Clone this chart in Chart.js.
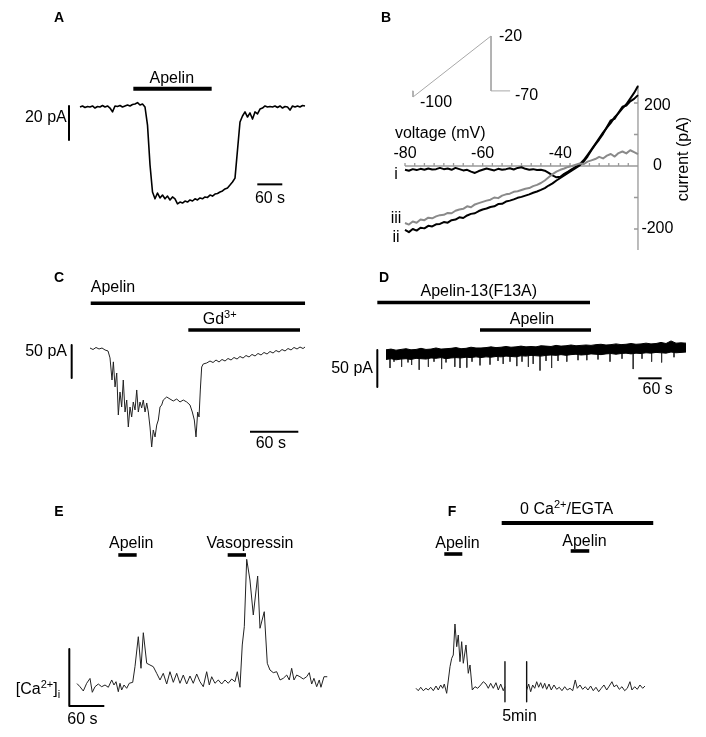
<!DOCTYPE html>
<html>
<head>
<meta charset="utf-8">
<script src="https://cdn.jsdelivr.net/npm/chart.js@4.4.0/dist/chart.umd.min.js"></script>
<style>
  body { margin: 0; background: #fff; }
  #fig { position: relative; width: 706px; height: 737px; background: #fff; }
  #fig canvas { position: absolute; }
</style>
</head>
<body>
<div id="fig">
  <canvas id="cA" width="353" height="260" style="left:0px;top:0px"></canvas>
  <canvas id="cB" width="353" height="260" style="left:353px;top:0px"></canvas>
  <canvas id="cC" width="353" height="220" style="left:0px;top:260px"></canvas>
  <canvas id="cD" width="386" height="220" style="left:320px;top:260px"></canvas>
  <canvas id="cE" width="353" height="257" style="left:0px;top:480px"></canvas>
  <canvas id="cF" width="353" height="257" style="left:353px;top:480px"></canvas>
</div>
<script>
// ---- A: whole-cell current during apelin (sampled every 6 s) ----
var aDt = 6; // s
var aCurrent = [0,0.6,-0.3,0.3,0,0.6,-0.6,0.3,0,0.9, 0,0.6,-0.6,-2.9,0.6,0.3,0.9,0,0.6,1.2,
  0.6,1.5,1.8,2.6,1.2,1.8,0,-10.6,-34,-50, -54,-50.6,-53.5,-51.8,-54,-52.4,-54.7,-52.9,-54,-57,
  -55.9,-56.5,-55.3,-55.9,-54.7,-55.3,-54,-54.7,-53.5,-54, -52.9,-53.2,-51.8,-52.4,-51.2,-50.9,-50,-49.4,-48.2,-47.6,
  -45.9,-44.1,-41.8,-25.3,-8.8,-5.3,-2.9,-5.9,-3.5,-7.1, -2.9,-4.1,-1.2,-0.6,0.6,0,0.3,0,0.6,-0.3,
  0.6,-0.6,0.3,0,-1.8,0.6,0,0.6,0,0.9,0.6];
var aApelin = [128, 316]; // s

// ---- B: I-V relations (ramp) ----
var bVolt = [-80,-79,-78,-77,-76,-75,-74,-73,-72,-71,-70,-69,-68,-67,-66,-65,-64,-63,-62,-61,
  -60,-59,-58,-57,-56,-55,-54,-53,-52,-51,-50,-49,-48,-47,-46,-45,-44,-43,-42,-41,
  -40,-39,-38,-37,-36,-35,-34,-33,-32,-31,-30,-29,-28,-27,-26,-25,-24,-23,-22,-21,-20];
var bCurI = [-12,-15,-10,-13,-9,-12,-8,-11,-10,-6, -10,-8,-12,-6,-10,-14,-12,-18,-22,-16,
  -12,-8,-11,-14,-9,-12,-10,-7,-11,-6, -4,-9,-12,-10,-13,-12,-15,-22,-30,-36,
  -34,-25,-18,-10,-3,6,18,35,52,70, 88,106,122,137,155,168,183,196,214,232, 254];
var bCurII = [-203,-210,-200,-205,-196,-198,-190,-192,-185,-184, -178,-180,-172,-170,-163,-165,-157,-152,-150,-143,
  -138,-135,-130,-128,-121,-120,-113,-110,-106,-101, -98,-94,-90,-85,-81,-76,-70,-62,-55,-46,
  -38,-30,-22,-14,-6,2,14,30,50,68, 84,102,124,145,150,170,188,192,205,213, 225];
var bCurIII = [-181,-186,-176,-180,-170,-172,-164,-166,-160,-156, -155,-149,-150,-142,-138,-136,-128,-131,-122,-118,
  -114,-110,-107,-100,-102,-94,-90,-88,-82,-80, -76,-72,-70,-64,-60,-54,-46,-36,-26,-18,
  -12,-8,-3,0,4,8,6,14,18,22, 29,24,33,38,30,41,46,40,50,44, 38];
var bVoltTicks = [-80,-77.5,-75,-72.5,-70,-67.5,-65,-62.5,-60,-57.5,-55,-52.5,-50,-47.5,-45,-42.5,-40,-37.5,-35,-32.5,-30,-27.5,-25,-22.5];
var bVoltLabels = [-80, -60, -40];
var bCurTicks = [200, 100, -100, -200];
var bCurLabels = [200, 0, -200];
var bProtoT = [-6, 0, 0, 1000, 1000, 1245];   // ms
var bProtoV = [-92, -92, -100, -20, -92, -92]; // as drawn

// ---- C: apelin then Gd3+ ----
var cTime = [0,3.8,7.5,11.3,15,18.8,22.5,25,27.5,29.2,31.3,33.4,35.4,37.5,39.6,41.6,43.8,45.9,47.9,50,
  52.1,54.1,56.3,58.4,60.4,62.5,64.6,66.6,68.8,70.9,72.9,75,77.1,79.1,81.3,83.4,85.4,87.5,89.6,91.6,
  95.9,100,104.1,108.4,112.5,116.6,120.9,125,127.9,130.4,132.5,134.6,136.3,137.9,139.6,141.6,145.9,150,153.8,157.5,
  161.3,165,168.8,172.5,176.3,180,183.8,187.5,191.3,195,198.8,202.5,206.3,210,213.8,217.5,221.3,225,228.8,232.5,
  236.3,240,243.8,247.5,251.3,255,258.8,262.5,266.3,268.8];
var cCurrent = [0,-2.3,0.8,-1.5,0,-3,-4.5,-15,-48.5,-21,-59,-37.9,-101.5,-66.7,-89.4,-48.5,-97,-78.8,-119.7,-89.4,
  -104.5,-81.8,-93.9,-63.6,-97,-81.8,-90.9,-78.8,-97,-83.3,-97,-119.7,-150,-124.2,-134.8,-116.7,-109.1,-89.4,-86.4,-78.8,
  -74.2,-77.3,-80.3,-77.3,-81.8,-78.8,-81.8,-86.4,-97,-109.1,-134.8,-97,-104.5,-63.6,-28.8,-24.2,-22.7,-19.7,-22,-18.2,
  -21.2,-17.4,-19.7,-15.9,-18.2,-14.4,-16.7,-12.9,-15.2,-11.4,-13.6,-9.8,-12.1,-8.3,-10.6,-6.8,-9.1,-5.3,-7.6,-3.8,
  -6.1,-2.3,-4.5,-0.8,-3,0.8,-1.5,1.5,-0.8,1.5];
var cApelin = [0.9, 268.8];
var cGd = [122.9, 262.5];

// ---- D: Apelin-13(F13A) then apelin ----
var dBandT = [0,12.5,25,37.5,50,62.5,75,87.5,100,112.5,125,137.5,150,162.5,175,187.5,200,212.5,225,237.5,
  250,262.5,275,287.5,300,312.5,325,337.5,350,362.5,375,387.5,400,412.5,425,437.5,450,462.5,475,487.5,
  500,512.5,525,537.5,550,562.5,575,587.5,600,612.5,625,637.5,650,662.5,675,687.5,700,712.5,725,737.5,750];
var dBandHi = [7,8,6.5,7.5,8.5,7,7.5,9,7.5,8, 9.5,8,8.5,9,10,8.5,9,10.5,9.5,9.5,
  10,11,10,10.5,11.5,10.5,11,12,11,11.5, 11,12.5,12,11.5,13,12,12.5,13.5,12.5,13,
  13.5,13,14,14.5,13.5,14,15,14,14.5,15.5, 14.5,15,16,15,15.5,17,15.5,19,16,16.5, 16];
var dBandLo = [-6,-5,-6.5,-5.5,-5,-6,-4.5,-5,-5.5,-4, -4.5,-3.5,-5,-4,-3.5,-4,-3,-3.5,-2.5,-3.5,
  -2.5,-3,-2,-2.5,-1.5,-2,-2.5,-1,-1.5,-0.5, -1,-1.5,-0.5,0,-0.5,0.5,-0.5,0.5,1,0,
  0.5,1.5,1,0.5,1.5,2,1,2,2.5,1.5, 2.5,2,3,2.5,3.5,3,2.5,4,3,3.5, 4];
var dSpikeT = [10,20,39,55,64,83,106,120,139,150,172,185,202,215,235,260,280,293,310,327,340,356,368,385,400,414,430,452,480,502,530,560,590,618,640,664,689,720];
var dSpikeTop = [-5,-5,-5,-4.5,-4,-4.5,-4,-3.5,-3.5,-3.5,-3,-3,-3,-2.5,-2.5,-2,-2,-1.5,-1.5,-1,-1,-0.5,0,0,0,0.5,0.5,0.5,0.5,1,1.5,1.5,2,2,2,2.5,3,3];
var dSpikeBot = [-17.6,-9,-16,-10,-13.5,-20,-16,-9,-19,-10,-16,-17.6,-17,-9,-14,-13,-8,-12,-9,-15,-9,-16,-12,-21,-8,-17.6,-8,-9,-7,-7,-6,-9,-5,-19,-5,-9,-10,-3];
var dF13A = [-21.7, 510];
var dApelin = [235, 512.5];

// ---- E: [Ca2+]i, apelin and vasopressin ----
var eTime = [0,5.1,10.8,16.6,22.3,26.2,30.9,36.5,42.3,48,53.7,59.5,63.4,66.9,70.8,73.7,76.6,80.6,85.2,89.6,
  95.5,99.4,105.1,109.7,113.7,119.5,125.1,130.8,136.6,142.3,147.9,153.8,159.4,165.1,170.9,176.5,182.2,188,193.7,199.3,
  205.2,210.8,216.5,222.3,226.8,230.9,236.5,242.2,248,253.7,259.3,265.2,270.8,274.8,279.4,283.3,286.8,290.9,296.5,302.2,
  309.7,313.7,321,326.2,330.8,336.5,342.3,348,353.6,359.5,363.9,368,372,376.6,382.2,387.9,393.7,398.2,402.3,406.2,
  410.9,415.3,418.2,423.4,429];
var eCa = [99,93.5,86,99.5,108,83.7,93.5,98.2,93.5,96.5,92.5,105.3,96.5,102.3,84.7,99.5,87.7,96.5,90.7,99.5,
  101.2,128.6,181.2,125.8,188.2,134.6,131.6,128.6,117,105.3,117,98.2,119.8,101.2,117,99.5,114,98.2,112.3,99.5,
  115.8,102.3,93.5,119.8,96.5,111,99.5,105.3,98.2,105.3,99.5,107,102.3,119.8,92.5,166.7,198.8,317,280.7,219.3,
  287.7,196,225.1,134.6,122.8,118.1,119.8,105.3,108.2,114,105.3,125.8,105.3,114,111,107,111,118.1,98.2,108.2,
  93.5,105.3,92.5,111,111];
var eApelin = [70.8, 102.3];
var eVaso = [258.3, 289.7];

// ---- F: [Ca2+]i, apelin in normal and 0 Ca2+/EGTA ----
var fTime1 = [0,3.9,8.1,12.5,17.1,21.1,25.2,29.7,34.3,38.2,42.3,45.8,48.5,52.6,58.3,61.2,63.9,66.8,69.8,72.5,
  75.4,78.3,81.1,85.7,89.6,92.6,96.5,101.1,105.8,110.9,115.4,120,123.9,128,132.5,137.1,141.1,145.2,149.6,152.5];
var fCa1 = [90.7,86.5,92.5,86.5,90.7,87.7,92.5,86.5,94.7,87.7,96.5,90.7,98.2,81.9,128.6,143.3,149.1,203.5,163.7,184.2,
  137.4,172.5,134.6,166.7,117,131.6,87.7,93.5,90.7,96.5,102.3,98.2,90.7,99.5,90.7,100.5,87.7,98.2,86.5,93.5];
var fTime2 = [189.7,193.2,196.6,200,203.5,206.9,210.3,213.7,217.2,220.6,224,228,231.9,236.5,241.2,245.6,250.2,254.9,259.3,264,
  268.6,273,276.5,281.1,285.7,290.2,294.8,299.4,303.9,308.5,313.2,317.6,322.2,326.9,331.3,335.9,339.4,344,348.5,353.1,
  357.7,362.2,366.8,370.2,374.9,379.3,383.9,388.6,392.5];
var fCa2 = [87.7,98.2,84.7,96.5,90.7,102.3,92.5,100.5,90.7,99.5,88.9,98.2,87.7,96.5,88.9,92.5,86.5,93.5,87.7,90.7,
  86.5,105.3,90.7,96.5,88.9,93.5,87.7,94.7,86.5,92.5,84.7,90.7,96.5,87.7,94.7,102.3,93.5,96.5,88.9,93.5,
  86.5,90.7,102.3,87.7,93.5,88.9,96.5,90.7,94.7];
var fBreak = [152.5, 189.7];
var fApelin1 = [48.5, 79.4];
var fApelin2 = [265.2, 297];
var fEgta = [146.9, 406.7];

// ---------------------------------------------------------------
var FONT = '"Liberation Sans", Arial, Helvetica, sans-serif';

function pts(xs, ys) {
  return xs.map(function (x, i) { return { x: x, y: ys[i] }; });
}
function trace(data, color, w, extra) {
  return Object.assign({ data: data, showLine: true, borderColor: color, borderWidth: w,
    pointRadius: 0, fill: false, borderCapStyle: 'butt', borderJoinStyle: 'round', spanGaps: false }, extra || {});
}
function hbar(span, y, w, extra) {
  return trace([{ x: span[0], y: y }, { x: span[1], y: y }], '#000', w, extra);
}
function vbar(x, y1, y2, w, color, extra) {
  return trace([{ x: x, y: y1 }, { x: x, y: y2 }], color || '#000', w, extra);
}

// scale range from a pixel anchor: m = {px, val, ppu}
function xRange(m, left, width) {
  return { type: 'linear', display: false, min: m.val - (m.px - left) / m.ppu, max: m.val + (left + width - m.px) / m.ppu };
}
function yRange(m, top, height) {
  return { type: 'linear', display: false, max: m.val + (m.px - top) / m.ppu, min: m.val - (top + height - m.px) / m.ppu };
}

function drawRich(ctx, parts, x, y, align, size, bold, rot) {
  ctx.save();
  ctx.translate(x, y);
  if (rot) ctx.rotate(rot);
  ctx.fillStyle = '#000';
  ctx.textBaseline = 'middle';
  ctx.textAlign = 'left';
  var w = 0;
  parts.forEach(function (p) {
    var s = (p.sup || p.sub) ? Math.round(size * 0.66) : size;
    p._f = (bold ? 'bold ' : '') + s + 'px ' + FONT;
    ctx.font = p._f;
    p._w = ctx.measureText(p.t).width;
    w += p._w;
  });
  var cx = align === 'left' ? 0 : (align === 'right' ? -w : -w / 2);
  parts.forEach(function (p) {
    ctx.font = p._f;
    var dy = p.sup ? -size * 0.33 : (p.sub ? size * 0.28 : 0);
    ctx.fillText(p.t, cx, dy);
    cx += p._w;
  });
  ctx.restore();
}

function notesPlugin(items, before) {
  return {
    id: 'notes',
    beforeDatasetsDraw: function (chart) { if (before) before(chart); },
    afterDatasetsDraw: function (chart) {
      items.forEach(function (n) {
        var xs = chart.scales[n.xs || 'x'], ys = chart.scales[n.ys || 'y'];
        drawRich(chart.ctx, n.parts || [{ t: n.t }], xs.getPixelForValue(n.x), ys.getPixelForValue(n.y),
          n.align || 'center', n.size || 16, n.bold, n.rot);
      });
    }
  };
}

function makePanel(id, scales, datasets, items, before) {
  return new Chart(document.getElementById(id), {
    type: 'scatter',
    data: { datasets: datasets },
    options: {
      responsive: false, animation: false, events: [],
      layout: { padding: 0, autoPadding: false },
      plugins: { legend: { display: false }, tooltip: { enabled: false }, title: { display: false } },
      scales: scales
    },
    plugins: [notesPlugin(items, before)]
  });
}

// ---------- Panel A ----------
makePanel('cA', {
    x: xRange({ px: 80, val: 0, ppu: 25 / 60 }, 0, 353),
    y: yRange({ px: 107, val: 0, ppu: 1.7 }, 0, 260)
  }, [
    trace(aCurrent.map(function (v, i) { return { x: i * aDt, y: v }; }), '#000', 1.6),
    hbar(aApelin, 10.8, 4),
    vbar(-26.4, 0.6, -19.4, 2),
    hbar([425.5, 485.5], -45.5, 2)
  ], [
    { t: 'A', x: -50.4, y: 52.1, bold: true, size: 14 },
    { t: 'Apelin', x: 220.3, y: 16.9 },
    { t: '20 pA', x: -31.9, y: -6.2, align: 'right' },
    { t: '60 s', x: 456, y: -54.1 }
  ]);

// ---------- Panel B ----------
makePanel('cB', {
    x: xRange({ px: 405 - 353, val: -80, ppu: 3.883 }, 0, 353),
    y: yRange({ px: 166, val: 0, ppu: 0.315 }, 0, 260),
    x2: xRange({ px: 413 - 353, val: 0, ppu: 0.078 }, 0, 353),
    y2: yRange({ px: 97, val: -100, ppu: 0.7625 }, 0, 260)
  }, [
    trace(pts(bProtoT, bProtoV), '#a8a8a8', 1, { xAxisID: 'x2', yAxisID: 'y2' }),
    trace(pts(bVolt, bCurIII), '#8a8a8a', 2),
    trace(pts(bVolt, bCurII), '#000', 2),
    trace(pts(bVolt, bCurI), '#000', 2)
  ], [
    { t: 'B', x: -84.9, y: 468, bold: true, size: 14 },
    { t: '-20', x: 1103, y: -21.3, xs: 'x2', ys: 'y2', align: 'left' },
    { t: '-70', x: 1308, y: -98.3, xs: 'x2', ys: 'y2', align: 'left' },
    { t: '-100', x: 90, y: -107, xs: 'x2', ys: 'y2', align: 'left' },
    { t: 'voltage (mV)', x: -82.6, y: 101.6, align: 'left' },
    { t: String(bVoltLabels[0]), x: bVoltLabels[0], y: 38 },
    { t: String(bVoltLabels[1]), x: bVoltLabels[1], y: 38 },
    { t: String(bVoltLabels[2]), x: bVoltLabels[2], y: 38 },
    { t: String(bCurLabels[0]), x: -15, y: 192 },
    { t: String(bCurLabels[1]), x: -15, y: bCurLabels[1] },
    { t: String(bCurLabels[2]), x: -15, y: bCurLabels[2] },
    { t: 'current (pA)', x: -8.3, y: 22, rot: -Math.PI / 2 },
    { t: 'i', x: -82.3, y: -28.6 },
    { t: 'iii', x: -82.3, y: -168 },
    { t: 'ii', x: -82.3, y: -228.6 }
  ], function (chart) {
    var ctx = chart.ctx, X = chart.scales.x, Y = chart.scales.y;
    var y0 = Y.getPixelForValue(0), xr = X.getPixelForValue(-20);
    ctx.save();
    ctx.strokeStyle = '#999';
    ctx.lineWidth = 1.3;
    ctx.beginPath();
    ctx.moveTo(X.getPixelForValue(-80), y0); ctx.lineTo(xr, y0);
    ctx.moveTo(xr, Y.getPixelForValue(257)); ctx.lineTo(xr, Y.getPixelForValue(-267));
    bVoltTicks.forEach(function (v) { var p = X.getPixelForValue(v); ctx.moveTo(p, y0); ctx.lineTo(p, y0 - 3); });
    bCurTicks.forEach(function (c) { var p = Y.getPixelForValue(c); ctx.moveTo(xr, p); ctx.lineTo(xr - 4, p); });
    ctx.stroke();
    ctx.restore();
  });

// ---------- Panel C ----------
makePanel('cC', {
    x: xRange({ px: 90, val: 0, ppu: 0.8 }, 0, 353),
    y: yRange({ px: 88, val: 0, ppu: 0.66 }, 0, 220)
  }, [
    trace(pts(cTime, cCurrent), '#222', 1),
    hbar(cApelin, 67.7, 3.6),
    hbar(cGd, 27.3, 3.6),
    vbar(-22.9, 4.5, -45.5, 2),
    hbar([200, 260.4], -126.8, 2)
  ], [
    { t: 'C', x: -38.75, y: 106, bold: true, size: 14 },
    { t: 'Apelin', x: 0.9, y: 91.7, align: 'left' },
    { parts: [{ t: 'Gd' }, { t: '3+', sup: true }], x: 140.9, y: 42.4, align: 'left' },
    { t: '50 pA', x: -28.75, y: -6.1, align: 'right' },
    { t: '60 s', x: 226, y: -144.7 }
  ]);

// ---------- Panel D ----------
var dSpikes = [];
dSpikeT.forEach(function (t, i) {
  dSpikes.push({ x: t, y: dSpikeTop[i] }, { x: t, y: dSpikeBot[i] }, { x: t, y: null });
});
makePanel('cD', {
    x: xRange({ px: 386 - 320, val: 0, ppu: 0.4 }, 0, 386),
    y: yRange({ px: 95, val: 0, ppu: 0.74 }, 0, 220)
  }, [
    trace(pts(dBandT, dBandHi), '#000', 1, { fill: '+1', backgroundColor: '#000' }),
    trace(pts(dBandT, dBandLo), '#000', 1),
    trace(dSpikes, '#333', 1),
    hbar(dF13A, 70.9, 3.6),
    hbar(dApelin, 33.8, 3.6),
    vbar(-21.7, 6.8, -43.2, 2),
    hbar([630.8, 689.2], -31.5, 2)
  ], [
    { t: 'D', x: -5, y: 103.4, bold: true, size: 14 },
    { t: 'Apelin-13(F13A)', x: 232, y: 85.5 },
    { t: 'Apelin', x: 365, y: 47.3 },
    { t: '50 pA', x: -32.5, y: -18.9, align: 'right' },
    { t: '60 s', x: 679, y: -47.3 }
  ]);

// ---------- Panel E ----------
makePanel('cE', {
    x: xRange({ px: 77, val: 0, ppu: 35 / 60 }, 0, 353),
    y: yRange({ px: 260, val: 0, ppu: 0.57 }, 0, 257)
  }, [
    trace(pts(eTime, eCa), '#222', 1),
    hbar(eApelin, 324.6, 3.6),
    hbar(eVaso, 324.6, 3.6),
    trace([{ x: -13.2, y: 159.6 }, { x: -13.2, y: 59.6 }, { x: 46.8, y: 59.6 }], '#000', 2)
  ], [
    { t: 'E', x: -30.9, y: 400, bold: true, size: 14 },
    { t: 'Apelin', x: 92.9, y: 343.9 },
    { t: 'Vasopressin', x: 296.5, y: 343.9 },
    { parts: [{ t: '[Ca' }, { t: '2+', sup: true }, { t: ']' }, { t: 'i', sub: true }], x: -29, y: 87.7, align: 'right' },
    { t: '60 s', x: 9.4, y: 35.1 }
  ]);

// ---------- Panel F ----------
makePanel('cF', {
    x: xRange({ px: 416 - 353, val: 0, ppu: 35 / 60 }, 0, 353),
    y: yRange({ px: 260, val: 0, ppu: 0.57 }, 0, 257)
  }, [
    trace(pts(fTime1, fCa1), '#222', 1),
    trace(pts(fTime2, fCa2), '#222', 1),
    vbar(fBreak[0], 137.4, 67.2, 1.4, '#111'),
    vbar(fBreak[1], 137.4, 67.2, 1.4, '#111'),
    hbar(fEgta, 380.7, 4),
    hbar(fApelin1, 326.3, 3.6),
    hbar(fApelin2, 331.6, 3.6)
  ], [
    { t: 'F', x: 61.7, y: 400, bold: true, size: 14 },
    { parts: [{ t: '0 Ca' }, { t: '2+', sup: true }, { t: '/EGTA' }], x: 258.3, y: 403.5 },
    { t: 'Apelin', x: 71.1, y: 343.9 },
    { t: 'Apelin', x: 288.8, y: 347.9 },
    { t: '5min', x: 177.4, y: 40.9 }
  ]);
</script>
</body>
</html>
